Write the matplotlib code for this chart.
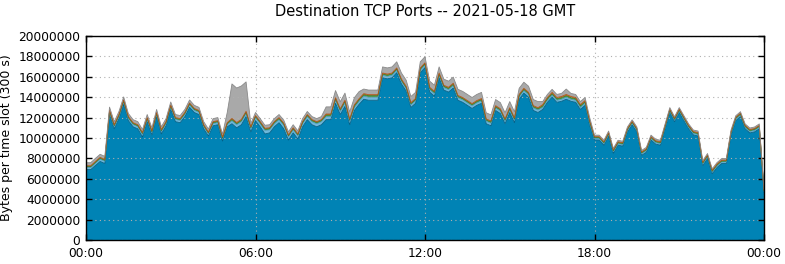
import numpy as np
import matplotlib
matplotlib.use("Agg")
import matplotlib.pyplot as plt
from matplotlib.ticker import FixedLocator

# 10-minute slots across the day (values in millions of bytes per 300 s slot)
slot_minutes = 10
main_port = [
    6.9, 6.9, 7.3, 7.7, 7.5, 12.3, 10.9, 11.9, 13.3, 11.7, 11.1, 10.9,
    10.1, 11.6, 10.3, 12.1, 10.4, 11.2, 12.8, 11.6, 11.5, 12.1, 13.0, 12.5,
    12.3, 10.9, 10.2, 11.2, 11.3, 9.7, 11.1, 11.4, 11.0, 11.3, 12.1, 10.6,
    11.7, 11.1, 10.4, 10.5, 11.1, 11.5, 10.9, 9.8, 10.5, 9.9, 11.1, 11.8,
    11.3, 11.1, 11.3, 11.8, 11.8, 13.4, 12.3, 13.1, 11.3, 12.7, 13.3, 13.8,
    13.7, 13.7, 13.7, 15.9, 15.8, 15.9, 16.4, 15.3, 14.6, 13.0, 13.4, 16.4,
    16.9, 14.5, 14.1, 15.9, 14.7, 14.5, 14.9, 13.7, 13.5, 13.2, 12.9, 13.2,
    13.4, 11.4, 11.2, 12.7, 12.4, 11.4, 12.5, 11.5, 13.8, 14.4, 14.0, 12.7,
    12.5, 12.8, 13.5, 14.0, 13.5, 13.6, 13.8, 13.6, 13.5, 12.8, 13.2, 11.2,
    9.8, 9.8, 9.3, 10.2, 8.5, 9.3, 9.2, 10.6, 11.3, 10.6, 8.3, 8.6,
    9.8, 9.4, 9.3, 10.9, 12.5, 11.6, 12.5, 11.7, 10.9, 10.3, 10.2, 7.3,
    8.0, 6.5, 7.1, 7.5, 7.5, 10.3, 11.7, 12.1, 10.9, 10.5, 10.6, 10.9,
    4.7,
]
light_blue = [
    0.20, 0.20, 0.22, 0.22, 0.22, 0.25, 0.22, 0.22, 0.25, 0.22, 0.22, 0.22,
    0.25, 0.22, 0.22, 0.22, 0.22, 0.22, 0.25, 0.22, 0.22, 0.22, 0.25, 0.22,
    0.22, 0.22, 0.20, 0.22, 0.22, 0.20, 0.22, 0.30, 0.30, 0.30, 0.30, 0.30,
    0.30, 0.30, 0.35, 0.30, 0.30, 0.30, 0.35, 0.30, 0.30, 0.30, 0.30, 0.30,
    0.30, 0.30, 0.30, 0.30, 0.30, 0.30, 0.30, 0.35, 0.30, 0.30, 0.30, 0.30,
    0.30, 0.30, 0.30, 0.25, 0.25, 0.25, 0.25, 0.25, 0.25, 0.25, 0.25, 0.25,
    0.25, 0.25, 0.25, 0.25, 0.25, 0.25, 0.25, 0.25, 0.25, 0.25, 0.25, 0.25,
    0.25, 0.25, 0.25, 0.25, 0.25, 0.25, 0.25, 0.25, 0.25, 0.25, 0.25, 0.25,
    0.25, 0.20, 0.20, 0.20, 0.20, 0.20, 0.20, 0.20, 0.20, 0.20, 0.20, 0.20,
    0.15, 0.15, 0.15, 0.15, 0.15, 0.15, 0.15, 0.15, 0.15, 0.15, 0.15, 0.15,
    0.15, 0.15, 0.15, 0.15, 0.15, 0.15, 0.15, 0.15, 0.15, 0.15, 0.15, 0.15,
    0.15, 0.15, 0.15, 0.15, 0.15, 0.15, 0.15, 0.15, 0.15, 0.15, 0.15, 0.15,
    0.10,
]
green = [
    0.10, 0.10, 0.10, 0.10, 0.10, 0.10, 0.10, 0.10, 0.10, 0.10, 0.10, 0.10,
    0.10, 0.10, 0.10, 0.10, 0.10, 0.10, 0.10, 0.10, 0.10, 0.10, 0.10, 0.10,
    0.10, 0.10, 0.10, 0.10, 0.10, 0.10, 0.10, 0.12, 0.12, 0.12, 0.12, 0.12,
    0.12, 0.12, 0.12, 0.12, 0.12, 0.12, 0.12, 0.12, 0.12, 0.12, 0.12, 0.12,
    0.12, 0.12, 0.12, 0.15, 0.15, 0.15, 0.15, 0.15, 0.15, 0.15, 0.15, 0.15,
    0.15, 0.15, 0.15, 0.12, 0.12, 0.12, 0.12, 0.12, 0.12, 0.12, 0.12, 0.12,
    0.12, 0.12, 0.12, 0.12, 0.12, 0.12, 0.12, 0.12, 0.12, 0.12, 0.12, 0.12,
    0.12, 0.12, 0.12, 0.12, 0.12, 0.12, 0.12, 0.12, 0.12, 0.12, 0.12, 0.12,
    0.12, 0.15, 0.15, 0.15, 0.15, 0.15, 0.15, 0.15, 0.15, 0.15, 0.15, 0.15,
    0.10, 0.10, 0.10, 0.10, 0.10, 0.10, 0.10, 0.10, 0.10, 0.10, 0.10, 0.10,
    0.10, 0.10, 0.10, 0.10, 0.10, 0.10, 0.10, 0.10, 0.10, 0.10, 0.10, 0.10,
    0.10, 0.10, 0.10, 0.10, 0.10, 0.10, 0.10, 0.10, 0.10, 0.10, 0.10, 0.10,
    0.05,
]
orange = [
    0.08, 0.08, 0.08, 0.08, 0.08, 0.08, 0.08, 0.08, 0.08, 0.08, 0.08, 0.08,
    0.08, 0.08, 0.08, 0.08, 0.08, 0.08, 0.08, 0.08, 0.08, 0.08, 0.08, 0.08,
    0.08, 0.08, 0.08, 0.08, 0.08, 0.08, 0.08, 0.10, 0.10, 0.10, 0.10, 0.08,
    0.08, 0.08, 0.08, 0.08, 0.08, 0.08, 0.08, 0.08, 0.08, 0.08, 0.08, 0.08,
    0.08, 0.08, 0.08, 0.10, 0.10, 0.10, 0.10, 0.10, 0.10, 0.10, 0.10, 0.10,
    0.10, 0.10, 0.10, 0.10, 0.10, 0.10, 0.10, 0.10, 0.10, 0.10, 0.10, 0.10,
    0.10, 0.10, 0.10, 0.10, 0.10, 0.10, 0.10, 0.10, 0.10, 0.10, 0.10, 0.10,
    0.10, 0.10, 0.10, 0.10, 0.10, 0.10, 0.10, 0.10, 0.10, 0.10, 0.10, 0.10,
    0.10, 0.12, 0.12, 0.12, 0.12, 0.12, 0.12, 0.12, 0.12, 0.12, 0.12, 0.12,
    0.08, 0.08, 0.08, 0.08, 0.08, 0.08, 0.08, 0.08, 0.08, 0.08, 0.08, 0.08,
    0.08, 0.08, 0.08, 0.08, 0.08, 0.08, 0.08, 0.08, 0.08, 0.08, 0.08, 0.08,
    0.08, 0.08, 0.08, 0.08, 0.08, 0.08, 0.08, 0.08, 0.08, 0.08, 0.08, 0.08,
    0.05,
]
other = [
    0.30, 0.30, 0.30, 0.30, 0.30, 0.30, 0.30, 0.30, 0.30, 0.30, 0.30, 0.30,
    0.30, 0.30, 0.30, 0.30, 0.30, 0.30, 0.30, 0.30, 0.30, 0.30, 0.30, 0.30,
    0.30, 0.30, 0.30, 0.30, 0.30, 0.30, 1.00, 3.38, 3.38, 3.28, 2.88, 0.30,
    0.30, 0.30, 0.30, 0.30, 0.30, 0.30, 0.30, 0.30, 0.30, 0.30, 0.30, 0.30,
    0.30, 0.30, 0.30, 0.70, 0.70, 0.70, 0.70, 0.70, 0.70, 0.70, 0.70, 0.45,
    0.45, 0.45, 0.45, 0.60, 0.60, 0.60, 0.60, 0.60, 0.60, 0.60, 0.60, 0.60,
    0.60, 0.60, 0.60, 0.60, 0.60, 0.60, 0.60, 0.60, 0.60, 0.60, 0.60, 0.60,
    0.60, 0.60, 0.60, 0.60, 0.60, 0.60, 0.60, 0.60, 0.60, 0.60, 0.60, 0.60,
    0.60, 0.30, 0.30, 0.30, 0.30, 0.30, 0.53, 0.30, 0.30, 0.30, 0.30, 0.30,
    0.15, 0.15, 0.15, 0.15, 0.15, 0.15, 0.15, 0.15, 0.15, 0.15, 0.15, 0.15,
    0.15, 0.15, 0.15, 0.15, 0.15, 0.15, 0.15, 0.15, 0.15, 0.15, 0.15, 0.15,
    0.15, 0.15, 0.15, 0.15, 0.15, 0.15, 0.15, 0.15, 0.15, 0.15, 0.15, 0.15,
    0.10,
]
x_tick_labels = ["00:00", "06:00", "12:00", "18:00", "00:00"]
y_ticks = [0, 2000000, 4000000, 6000000, 8000000, 10000000, 12000000,
           14000000, 16000000, 18000000, 20000000]

hours = np.arange(len(main_port)) * slot_minutes / 60.0
series = [np.array(s) * 1e6 for s in (main_port, light_blue, green, orange, other)]
fills = ["#0083b5", "#6fb9dc", "#4e9f3d", "#e0701e", "#a9a9a9"]
edges = ["#005f86", "#4d98bb", "#3a7a2c", "#b0541a", "#8a8a8a"]

fig = plt.figure(figsize=(7.85, 2.64), dpi=100)
ax = fig.add_axes([86 / 785, 1 - 240 / 264, (764 - 86) / 785, (240 - 36) / 264])

ax.stackplot(hours, *series, colors=fills, linewidth=0)
cum = np.zeros_like(series[0])
for s, ec in zip(series, edges):
    cum = cum + s
    ax.plot(hours, cum, color=ec, linewidth=0.6)

ax.set_xlim(0, 24)
ax.set_ylim(0, 20000000)
ax.xaxis.set_major_locator(FixedLocator([0, 6, 12, 18, 24]))
ax.set_xticklabels(x_tick_labels)
ax.set_yticks(y_ticks)
ax.set_yticklabels([str(v) for v in y_ticks])
ax.tick_params(direction="in", length=4, width=1, top=True, right=True,
               labelsize=8.8)
ax.tick_params(axis="y", pad=4)
ax.tick_params(axis="x", pad=5)
ax.grid(True, color="#b0b0b0", linestyle=(0, (1, 3)), linewidth=0.8)
for sp in ax.spines.values():
    sp.set_linewidth(1.0)
ax.set_ylabel("Bytes per time slot (300 s)", fontsize=9)
ax.yaxis.set_label_coords((13 - 86) / 678, 0.5)
fig.text(425 / 785, 1 - 12 / 264, "Destination TCP Ports -- 2021-05-18 GMT",
         ha="center", va="center", fontsize=10.5)

fig.savefig("out.png", dpi=100)
